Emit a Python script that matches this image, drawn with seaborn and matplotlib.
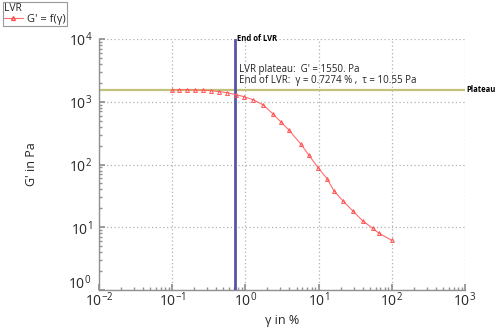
import matplotlib
matplotlib.use("Agg")
import matplotlib.pyplot as plt
import seaborn as sns
import pandas as pd
import numpy as np
from matplotlib.ticker import LogLocator, LogFormatterSciNotation, NullFormatter, FuncFormatter
from matplotlib.lines import Line2D

strain = [0.1, 0.124, 0.159, 0.205, 0.264, 0.339, 0.436, 0.561, 0.745, 0.957,
          1.27, 1.74, 2.38, 3.06, 3.94, 5.75, 7.39, 9.82, 13.0, 16.2,
          21.5, 29.5, 40.4, 55.3, 66.8, 100.0]
modulus = [1532, 1562, 1562, 1532, 1532, 1503, 1449, 1397, 1297, 1204,
           1077, 895, 640, 475, 353, 210, 140, 89.5, 59.5, 38.1,
           26.3, 18.1, 12.5, 9.6, 8.0, 6.2]
plateau = 1550.0
end_lvr = 0.7274
tau_end = 10.55

sns.set_theme(style="white")
plt.rcParams['font.family'] = ['Open Sans', 'DejaVu Sans']
plt.rcParams['mathtext.default'] = 'regular'

df = pd.DataFrame({"strain": strain, "G": modulus})

fig = plt.figure(figsize=(5.0, 3.29), dpi=100)
ax = fig.add_axes([0.198, 0.1185, 0.732, 0.763])

ax.set_xscale("log")
ax.set_yscale("log")
ax.set_xlim(1e-2, 1e3)
ax.set_ylim(1e0, 1e4)

ax.grid(True, which="major", linestyle=(0, (1, 2)), color="#b0b0b0", linewidth=0.9)

ax.axhline(plateau, color="#c2c27a", linewidth=1.6, zorder=2)
ax.axvline(end_lvr, color="#5656a8", linewidth=2.0, zorder=3)

sns.lineplot(data=df, x="strain", y="G", ax=ax, color="#ff6e6e", linewidth=0.8,
             marker="^", markersize=2.8, markeredgecolor="#ff5050",
             markerfacecolor="none", markeredgewidth=0.7, zorder=4)

for s in ["top", "right"]:
    ax.spines[s].set_visible(False)
for s in ["left", "bottom"]:
    ax.spines[s].set_color("#909090")
    ax.spines[s].set_linewidth(1.0)

sci = LogFormatterSciNotation()
ymin = 1e0

def yfmt(v, pos):
    if abs(v - ymin) < 1e-9:
        return ""
    return sci(v, pos)

ax.xaxis.set_major_locator(LogLocator(base=10, numticks=10))
ax.yaxis.set_major_locator(LogLocator(base=10, numticks=10))
ax.xaxis.set_minor_locator(LogLocator(base=10, subs=np.arange(2, 10), numticks=20))
ax.yaxis.set_minor_locator(LogLocator(base=10, subs=np.arange(2, 10), numticks=20))
ax.xaxis.set_major_formatter(LogFormatterSciNotation())
ax.yaxis.set_major_formatter(FuncFormatter(yfmt))
ax.xaxis.set_minor_formatter(NullFormatter())
ax.yaxis.set_minor_formatter(NullFormatter())
ax.tick_params(which="major", direction="in", length=4, color="#909090", labelsize=10,
               bottom=True, left=True)
ax.tick_params(axis="x", which="major", pad=1)
ax.tick_params(axis="y", which="major", pad=5)
ax.tick_params(which="minor", direction="in", length=2, color="#909090",
               bottom=True, left=True)

# lowest y tick label, nudged so it does not collide with 10^-2
ax.annotate(r"$10^{0}$", xy=(0, ymin), xycoords=("axes fraction", "data"),
            xytext=(-8, 6), textcoords="offset pixels", ha="right", va="center",
            fontsize=10, color="#262626")

ax.set_xlabel("γ in %", fontsize=9, labelpad=3)
ax.set_ylabel("G' in Pa", fontsize=9, labelpad=22)

ax.text(end_lvr * 1.04, 1.0e4, "End of LVR", fontsize=5.5, fontweight="bold",
        ha="left", va="center", color="black")
ax.text(1e3 * 1.03, plateau, "Plateau", fontsize=5.5, fontweight="bold",
        ha="left", va="center", color="black", clip_on=False)
ax.text(0.82, 3.3e3, "LVR plateau:  G' = %d. Pa" % int(plateau), fontsize=7,
        ha="left", va="center", color="#222222")
ax.text(0.82, 2.2e3, "End of LVR:  γ = %.4f %% ,  τ = %.2f Pa" % (end_lvr, tau_end),
        fontsize=7, ha="left", va="center", color="#222222")

handle = Line2D([], [], color="#ff6e6e", linewidth=0.8, marker="^", markersize=2.8,
                markerfacecolor="none", markeredgecolor="#ff5050")
leg = fig.legend([handle], ["G' = f(γ)"], title="LVR", loc="upper left",
                 bbox_to_anchor=(0.005, 0.994), fontsize=8, title_fontsize=7.5,
                 frameon=True, fancybox=False, borderpad=0.1, handlelength=1.7,
                 handletextpad=0.4, borderaxespad=0, labelspacing=0.1)
leg._legend_box.align = "left"
leg._legend_box.sep = 0
leg.get_frame().set_edgecolor("#808080")
leg.get_frame().set_linewidth(0.8)

fig.savefig("out.png", dpi=100)
